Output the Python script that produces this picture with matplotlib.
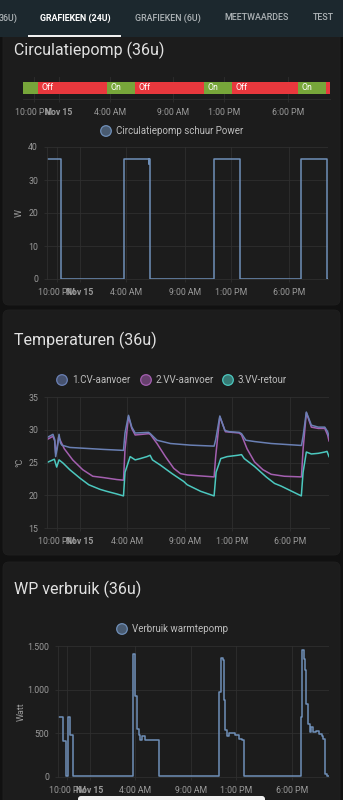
#!/usr/bin/env python3
"""Home Assistant style dashboard: pump state, pump power, temperatures, heat pump usage."""
import matplotlib.pyplot as plt
from matplotlib.patches import Circle, FancyBboxPatch, Rectangle

W, H = 343, 800

# ---- shared time axis (hours relative to midnight Nov 15)
XLIM = (-2.83, 21.32)
tick_hours = [-2, 0, 4, 9, 13, 18]
tick_labels = ["10:00 PM", "Nov 15", "4:00 AM", "9:00 AM", "1:00 PM", "6:00 PM"]

# ---- Circulatiepomp state timeline
state_starts = [-2.83, -1.62, 3.79, 5.99, 11.40, 13.60, 18.80, 21.00]
state_ends = [-1.62, 3.79, 5.99, 11.40, 13.60, 18.80, 21.00, 21.32]
state_names = ["On", "Off", "On", "Off", "On", "Off", "On", "Off"]

# ---- Circulatiepomp schuur Power (W), stepped
power_t = [-2.83, -1.65, 3.77, 5.92, 5.97, 6.02, 11.56, 13.78, 19.00, 21.25, 21.32]
power_w = [36.5, 0.0, 36.5, 35.0, 36.5, 0.0, 36.5, 0.0, 36.5, 0.0, 0.0]

# ---- Temperaturen (°C)
cv_t = [-2.83, -2.32, -2.17, -2.09, -1.95, -1.80, -1.68, -1.56, -0.88, 0.56, 1.99,
        3.72, 3.85, 4.15, 4.43, 4.72, 5.87, 6.02, 6.59, 7.74, 9.47, 11.48, 11.62,
        11.97, 12.40, 12.77, 13.63, 13.83, 14.20, 14.94, 16.37, 18.96, 19.10, 19.38,
        19.81, 20.40, 20.96, 21.20, 21.32]
cv_v = [28.8, 29.3, 28.5, 25.9, 27.2, 29.3, 28.0, 27.65, 27.3, 27.15, 27.0,
        26.85, 29.5, 32.2, 30.4, 29.5, 29.6, 29.4, 28.4, 27.9, 27.65, 27.5, 28.5,
        32.1, 29.9, 29.7, 29.6, 29.4, 28.4, 28.2, 27.9, 27.6, 29.0, 32.7,
        30.7, 30.4, 30.4, 29.7, 29.0]

vv_t = [-2.83, -2.32, -2.17, -2.09, -1.95, -1.83, -1.35, -0.63, 0.23, 1.09, 1.99,
        3.14, 3.72, 3.85, 4.15, 4.43, 4.72, 5.87, 6.02, 6.59, 7.31, 8.03, 8.60,
        9.18, 10.33, 11.48, 11.62, 11.97, 12.45, 13.63, 13.83, 14.30, 14.94, 15.66,
        16.37, 17.50, 18.96, 19.10, 19.38, 19.81, 20.40, 20.96, 21.20, 21.32]
vv_v = [28.5, 29.0, 28.3, 26.4, 27.5, 28.9, 27.1, 25.4, 23.9, 22.9, 22.7,
        22.4, 22.3, 27.0, 32.0, 30.2, 29.2, 29.4, 29.3, 27.9, 25.9, 24.1, 23.3,
        23.1, 22.95, 22.8, 26.0, 32.0, 29.7, 29.5, 29.2, 27.1, 25.1, 23.9,
        23.2, 22.9, 22.8, 27.0, 32.6, 30.4, 30.2, 30.2, 29.2, 28.3]

ret_t = [-2.83, -2.20, -2.00, -1.80, -1.45, -0.88, 0.00, 0.75, 1.71, 2.28, 3.14,
         3.72, 3.85, 4.29, 4.72, 5.16, 5.73, 6.00, 6.20, 6.88, 7.88, 8.88, 9.18,
         10.33, 11.48, 11.65, 12.05, 12.60, 13.49, 13.83, 14.06, 14.94, 15.94,
         16.66, 17.22, 18.37, 18.95, 19.10, 19.38, 19.81, 20.40, 20.96, 21.15, 21.32]
ret_v = [25.0, 25.5, 24.3, 25.4, 24.9, 23.9, 22.6, 21.6, 20.9, 20.6, 20.2,
         19.9, 23.5, 25.9, 25.4, 25.6, 25.9, 26.1, 25.4, 24.6, 23.3, 22.1, 21.6,
         20.6, 19.9, 23.5, 25.6, 25.9, 26.1, 26.2, 25.6, 24.4, 22.8,
         21.8, 21.4, 20.4, 19.9, 23.5, 26.6, 26.3, 26.4, 26.6, 26.7, 25.9]

# ---- WP verbruik (Watt), stepped
wp_t = [-2.84, -2.39, -2.15, -1.94, -1.73, -1.50, 3.83, 4.07, 4.22, 4.37, 4.45,
        4.66, 4.96, 6.14, 11.54, 11.68, 11.83, 11.92, 12.07, 12.22, 12.37, 12.96,
        13.26, 13.55, 13.76, 18.80, 18.88, 18.95, 19.05, 19.15, 19.30, 19.45,
        19.60, 19.75, 19.90, 20.13, 20.42, 20.66, 20.80, 20.96, 21.10, 21.32]
wp_w = [687, 408, 8, 687, 477, 8, 1405, 924, 553, 477, 420,
        466, 420, 8, 973, 1366, 1343, 878, 534, 466, 504, 477,
        439, 427, 8, 687, 1100, 1458, 1350, 1221, 840, 611,
        515, 572, 515, 527, 496, 466, 439, 38, 8, 8]

# ---- colours
PAGE = "#111111"
CARD = "#1c1c1c"
TABBAR = "#1c282e"
GRID = "#2f2f2f"
TICK_TXT = "#9a9a9a"
TITLE_TXT = "#e1e1e1"
LEGEND_TXT = "#bdbdbd"
ON_C = "#77a63a"
OFF_C = "#e8383d"
BLUE = "#6f8fb8"
CV_C = "#6a80b4"
VV_C = "#a45fb0"
RET_C = "#4cc8bf"

plt.rcParams["font.family"] = ["Roboto", "DejaVu Sans"]

fig = plt.figure(figsize=(W / 100, H / 100), dpi=100, facecolor=PAGE)
bg = fig.add_axes([0, 0, 1, 1])
bg.set_xlim(0, W)
bg.set_ylim(H, 0)
bg.axis("off")


def card(top, bottom):
    bg.add_patch(FancyBboxPatch((3, top), 337, bottom - top,
                                boxstyle="round,pad=0,rounding_size=6",
                                fc=CARD, ec="#202020", lw=0.6))


def legend_item(x, y, color, text):
    bg.add_patch(Circle((x, y), 5.3, fc=color, ec=color, alpha=0.55, lw=0))
    bg.add_patch(Circle((x, y), 5.3, fc="none", ec=color, lw=0.9))
    bg.text(x + 10, y, text, ha="left", va="center", fontsize=7, color=LEGEND_TXT)


def px_axes(left, top, right, bottom):
    ax = fig.add_axes([left / W, 1 - bottom / H, (right - left) / W, (bottom - top) / H])
    ax.set_facecolor("none")
    ax.set_xlim(*XLIM)
    ax.set_xticks(tick_hours, tick_labels)
    for lbl in ax.get_xticklabels():
        if lbl.get_text() == "Nov 15":
            lbl.set_fontweight("bold")
            lbl.set_color("#b8b8b8")
    ax.tick_params(colors=GRID, labelcolor=TICK_TXT, labelsize=6.3, length=2.5,
                   width=0.6, pad=4)
    for side in ("top", "right"):
        ax.spines[side].set_visible(False)
    for side in ("left", "bottom"):
        ax.spines[side].set_color(GRID)
        ax.spines[side].set_linewidth(0.6)
    ax.grid(True, color=GRID, lw=0.6)
    ax.set_axisbelow(True)
    return ax


# ---- page chrome
card(28, 305)
card(310, 555)
card(562, 830)
bg.add_patch(Rectangle((0, 0), W, 37, fc=TABBAR, lw=0))
bg.add_patch(Rectangle((28, 35), 93, 2, fc="#f0f0f0", lw=0))
tabs = [("36U)", 8, "#aeb4b7", "medium"), ("GRAFIEKEN (24U)", 75, "#ffffff", "bold"),
        ("GRAFIEKEN (6U)", 168, "#aeb4b7", "medium"), ("MEETWAARDES", 257, "#aeb4b7", "medium"),
        ("TEST", 323, "#aeb4b7", "medium")]
for txt, cx, col, wt in tabs:
    bg.text(cx, 18, txt, ha="center", va="center", fontsize=6.4, color=col, fontweight=wt)

bg.text(14, 50, "Circulatiepomp (36u)", ha="left", va="center", fontsize=11.5, color=TITLE_TXT)
bg.text(14, 340, "Temperaturen (36u)", ha="left", va="center", fontsize=11.5, color=TITLE_TXT)
bg.text(14, 589, "WP verbruik (36u)", ha="left", va="center", fontsize=11.5, color=TITLE_TXT)

legend_item(106, 131, BLUE, "Circulatiepomp schuur Power")
legend_item(62, 380, CV_C, "1.CV-aanvoer")
legend_item(146, 380, VV_C, "2.VV-aanvoer")
legend_item(228, 380, RET_C, "3.VV-retour")
legend_item(122, 629, BLUE, "Verbruik warmtepomp")

# home indicator
bg.add_patch(FancyBboxPatch((78, 796), 187, 8, boxstyle="round,pad=0,rounding_size=3",
                            fc="#f2f2f2", lw=0))

# ---- state timeline
ax = px_axes(23, 77, 330, 99)
ax.set_ylim(0, 1)
ax.set_yticks([])
ax.spines["left"].set_visible(False)
ax.grid(True, axis="x", color=GRID, lw=0.6)
ax.grid(False, axis="y")
for s, e, name in zip(state_starts, state_ends, state_names):
    ax.barh(0.5, e - s, left=s, height=0.55, color=ON_C if name == "On" else OFF_C,
            zorder=3)
    if e - s > 1.5:
        ax.annotate(name, (s, 0.5), xytext=(2.5, 0), textcoords="offset points",
                    ha="left", va="center", fontsize=6.3, color="white", zorder=4)

# ---- pump power
ax = px_axes(47, 147, 328, 279)
ax.plot(power_t, power_w, drawstyle="steps-post", color=BLUE, lw=1.1)
ax.set_ylim(0, 40)
ax.set_yticks([0, 10, 20, 30, 40])
ax.set_ylabel("W", color=TICK_TXT, fontsize=6.5, labelpad=3)

# ---- temperatures
ax = px_axes(47, 397, 329, 528)
ax.plot(vv_t, vv_v, color=VV_C, lw=1.1)
ax.plot(ret_t, ret_v, color=RET_C, lw=1.1)
ax.plot(cv_t, cv_v, color=CV_C, lw=1.1)
ax.set_ylim(15, 35)
ax.set_yticks([15, 20, 25, 30, 35])
ax.set_ylabel("°C", color=TICK_TXT, fontsize=6.5, labelpad=3)

# ---- heat pump usage
ax = px_axes(58, 646, 329, 777)
ax.plot(wp_t, wp_w, drawstyle="steps-post", color=BLUE, lw=1.1)
ax.set_ylim(0, 1500)
ax.set_yticks([0, 500, 1000, 1500], ["0", "500", "1.000", "1.500"])
ax.set_ylabel("Watt", color=TICK_TXT, fontsize=6.5, labelpad=1)

fig.savefig("out.png", dpi=100, facecolor=PAGE)
